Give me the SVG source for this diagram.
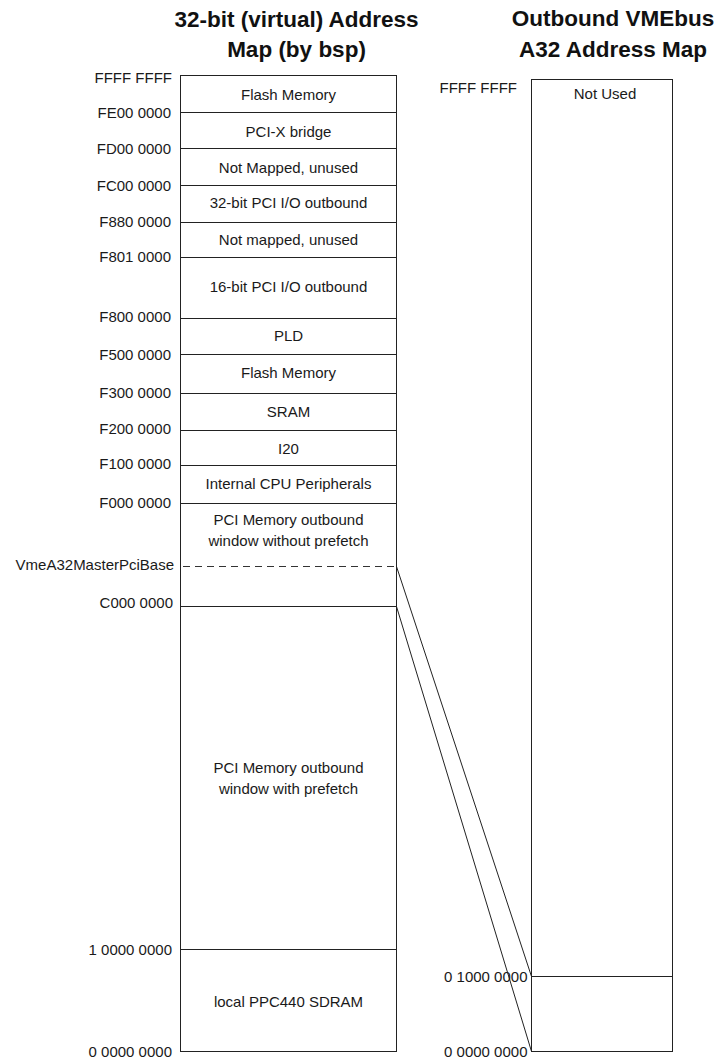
<svg xmlns="http://www.w3.org/2000/svg" width="721" height="1059" viewBox="0 0 721 1059">
<style>
.t{font-family:"Liberation Sans",Arial,sans-serif;font-size:15px;fill:#1a1a1a}
.c{text-anchor:middle}
.r{text-anchor:end}
.h{font-family:"Liberation Sans",Arial,sans-serif;font-size:22.5px;font-weight:bold;fill:#111;text-anchor:middle}
.box{fill:#fff;stroke:#222;stroke-width:1}
.ln{stroke:#222;stroke-width:1;fill:none}
.dash{stroke:#333;stroke-width:1;stroke-dasharray:7,5;fill:none}
</style>
<rect width="721" height="1059" fill="#fff"/>
<g id="titles">
<text class="h" x="296.5" y="27">32-bit (virtual) Address</text>
<text class="h" x="296.5" y="57">Map (by bsp)</text>
<text class="h" x="613" y="26">Outbound VMEbus</text>
<text class="h" x="613" y="57">A32 Address Map</text>
</g>
<g id="left-map">
<rect class="box" x="180.5" y="75.5" width="216" height="976"/>
<g id="row-flash1"><line class="ln" x1="180.5" y1="112.5" x2="396.5" y2="112.5"/><text class="t c" x="288.5" y="100">Flash Memory</text></g>
<g id="row-pcix"><line class="ln" x1="180.5" y1="148.5" x2="396.5" y2="148.5"/><text class="t c" x="288.5" y="136.5">PCI-X bridge</text></g>
<g id="row-notmapped1"><line class="ln" x1="180.5" y1="185.5" x2="396.5" y2="185.5"/><text class="t c" x="288.5" y="173.3">Not Mapped, unused</text></g>
<g id="row-pci32io"><line class="ln" x1="180.5" y1="222.5" x2="396.5" y2="222.5"/><text class="t c" x="288.5" y="208.3">32-bit PCI I/O outbound</text></g>
<g id="row-notmapped2"><line class="ln" x1="180.5" y1="257.5" x2="396.5" y2="257.5"/><text class="t c" x="288.5" y="245">Not mapped, unused</text></g>
<g id="row-pci16io"><line class="ln" x1="180.5" y1="318.5" x2="396.5" y2="318.5"/><text class="t c" x="288.5" y="292.3">16-bit PCI I/O outbound</text></g>
<g id="row-pld"><line class="ln" x1="180.5" y1="354.5" x2="396.5" y2="354.5"/><text class="t c" x="288.5" y="340.7">PLD</text></g>
<g id="row-flash2"><line class="ln" x1="180.5" y1="393.5" x2="396.5" y2="393.5"/><text class="t c" x="288.5" y="378.3">Flash Memory</text></g>
<g id="row-sram"><line class="ln" x1="180.5" y1="430.5" x2="396.5" y2="430.5"/><text class="t c" x="288.5" y="416.7">SRAM</text></g>
<g id="row-i20"><line class="ln" x1="180.5" y1="465.5" x2="396.5" y2="465.5"/><text class="t c" x="288.5" y="454">I20</text></g>
<g id="row-cpu"><line class="ln" x1="180.5" y1="503.5" x2="396.5" y2="503.5"/><text class="t c" x="288.5" y="489.3">Internal CPU Peripherals</text></g>
<g id="row-pcinopf"><text class="t c" x="288.5" y="525">PCI Memory outbound</text><text class="t c" x="288.5" y="545.7">window without prefetch</text>
<line class="dash" x1="183" y1="566.5" x2="396.5" y2="566.5"/></g>
<g id="row-pcipf"><line class="ln" x1="180.5" y1="606.5" x2="396.5" y2="606.5"/><text class="t c" x="288.5" y="773.3">PCI Memory outbound</text><text class="t c" x="288.5" y="794">window with prefetch</text></g>
<g id="row-sdram"><line class="ln" x1="180.5" y1="949.5" x2="396.5" y2="949.5"/><text class="t c" x="288.5" y="1006.5">local PPC440 SDRAM</text></g>
</g>
<g id="left-labels">
<text class="t r" x="172" y="83.3">FFFF FFFF</text>
<text class="t r" x="171" y="118.3">FE00 0000</text>
<text class="t r" x="171" y="154.3">FD00 0000</text>
<text class="t r" x="171" y="191">FC00 0000</text>
<text class="t r" x="171" y="226.7">F880 0000</text>
<text class="t r" x="171" y="261.7">F801 0000</text>
<text class="t r" x="171" y="321.7">F800 0000</text>
<text class="t r" x="171" y="360">F500 0000</text>
<text class="t r" x="171" y="398.3">F300 0000</text>
<text class="t r" x="171" y="434">F200 0000</text>
<text class="t r" x="171" y="469.3">F100 0000</text>
<text class="t r" x="171" y="508.3">F000 0000</text>
<text class="t r" x="174" y="570">VmeA32MasterPciBase</text>
<text class="t r" x="173" y="608.3">C000 0000</text>
<text class="t r" x="172" y="955">1 0000 0000</text>
<text class="t r" x="172" y="1056.7">0 0000 0000</text>
</g>
<g id="right-map">
<rect class="box" x="531.5" y="79.5" width="141" height="972"/>
<text class="t c" x="605" y="99.3">Not Used</text>
<line class="ln" x1="531.5" y1="976.5" x2="672.5" y2="976.5"/>
</g>
<g id="right-labels">
<text class="t r" x="517" y="93">FFFF FFFF</text>
<text class="t r" x="527.5" y="981.7">0 1000 0000</text>
<text class="t r" x="527.5" y="1057">0 0000 0000</text>
</g>
<g id="connectors">
<line class="ln" x1="396.5" y1="566.5" x2="531.5" y2="976.5"/>
<line class="ln" x1="396.5" y1="606.5" x2="531.5" y2="1051.5"/>
</g>
</svg>
